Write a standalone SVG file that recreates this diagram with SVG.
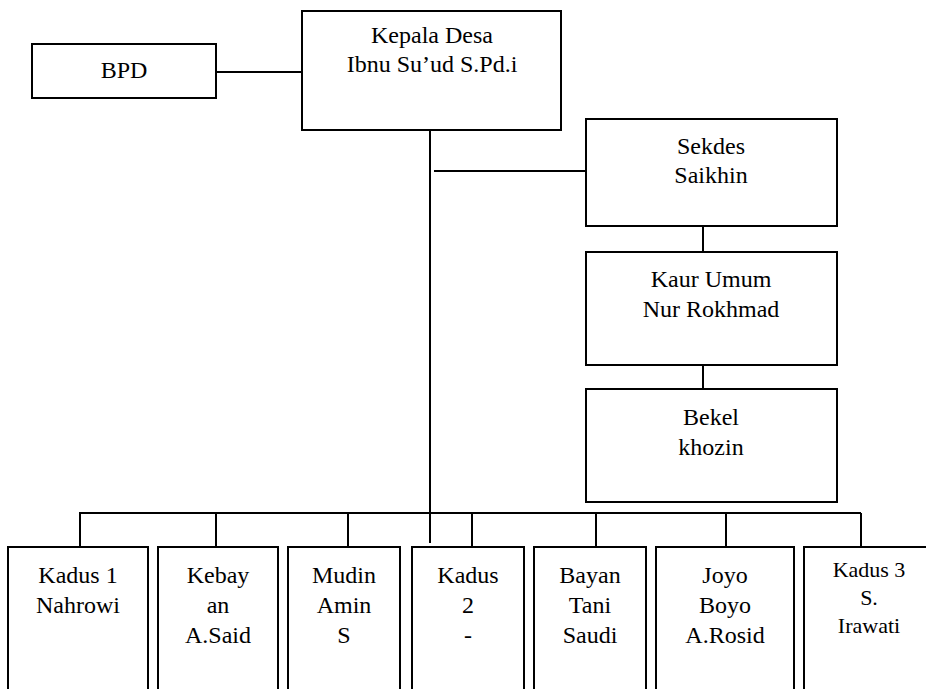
<svg xmlns="http://www.w3.org/2000/svg" width="926" height="689" viewBox="0 0 926 689">
<style>
.box{fill:#fff;stroke:#000;stroke-width:2}
.ln{stroke:#000;stroke-width:2;fill:none}
.sm{font-size:22px}
</style>
<rect width="926" height="689" fill="#fff"/>
<g id="connectors">
<line class="ln" x1="216" y1="72" x2="302" y2="72"/>
<line class="ln" x1="430" y1="130" x2="430" y2="543"/>
<line class="ln" x1="434" y1="171" x2="586" y2="171"/>
<line class="ln" x1="703" y1="226" x2="703" y2="252"/>
<line class="ln" x1="703" y1="365" x2="703" y2="389"/>
<line class="ln" x1="79" y1="513" x2="861" y2="513"/>
<line class="ln" x1="80" y1="513" x2="80" y2="547"/>
<line class="ln" x1="216" y1="513" x2="216" y2="547"/>
<line class="ln" x1="348" y1="513" x2="348" y2="547"/>
<line class="ln" x1="472" y1="513" x2="472" y2="547"/>
<line class="ln" x1="596" y1="513" x2="596" y2="547"/>
<line class="ln" x1="726" y1="513" x2="726" y2="547"/>
<line class="ln" x1="861" y1="513" x2="861" y2="547"/>
</g>
<g font-family="Liberation Serif, serif" font-size="24" fill="#000" text-anchor="middle">
<g id="bpd"><rect class="box" x="32" y="44" width="184" height="54"/><text x="124" y="78">BPD</text></g>
<g id="kepala"><rect class="box" x="302" y="11" width="259" height="119"/><text x="432" y="43">Kepala Desa</text><text x="432" y="72">Ibnu Su’ud S.Pd.i</text></g>
<g id="sekdes"><rect class="box" x="586" y="119" width="251" height="107"/><text x="711" y="154">Sekdes</text><text x="711" y="183">Saikhin</text></g>
<g id="kaur"><rect class="box" x="586" y="252" width="251" height="113"/><text x="711" y="287">Kaur Umum</text><text x="711" y="317">Nur Rokhmad</text></g>
<g id="bekel"><rect class="box" x="586" y="389" width="251" height="113"/><text x="711" y="425">Bekel</text><text x="711" y="455">khozin</text></g>
<g id="kadus1"><rect class="box" x="8" y="547" width="140" height="160"/><text x="78" y="583">Kadus 1</text><text x="78" y="613">Nahrowi</text></g>
<g id="kebayan"><rect class="box" x="158" y="547" width="120" height="160"/><text x="218" y="583">Kebay</text><text x="218" y="613">an</text><text x="218" y="643">A.Said</text></g>
<g id="mudin"><rect class="box" x="288" y="547" width="112" height="160"/><text x="344" y="583">Mudin</text><text x="344" y="613">Amin</text><text x="344" y="643">S</text></g>
<g id="kadus2"><rect class="box" x="412" y="547" width="112" height="160"/><text x="468" y="583">Kadus</text><text x="468" y="613">2</text><text x="468" y="643">-</text></g>
<g id="bayan"><rect class="box" x="534" y="547" width="112" height="160"/><text x="590" y="583">Bayan</text><text x="590" y="613">Tani</text><text x="590" y="643">Saudi</text></g>
<g id="joyo"><rect class="box" x="656" y="547" width="138" height="160"/><text x="725" y="583">Joyo</text><text x="725" y="613">Boyo</text><text x="725" y="643">A.Rosid</text></g>
<g id="kadus3"><rect class="box" x="804" y="547" width="132" height="160"/><text class="sm" x="869" y="577">Kadus 3</text><text class="sm" x="869" y="605">S.</text><text class="sm" x="869" y="633">Irawati</text></g>
</g>
</svg>
